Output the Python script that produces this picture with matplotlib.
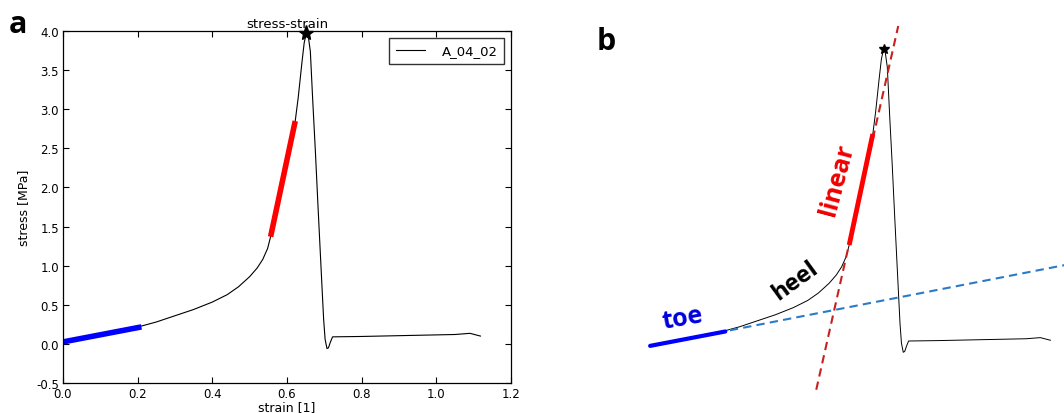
import numpy as np
import matplotlib
matplotlib.use("Agg")
import matplotlib.pyplot as plt

# measured curve (strain [1], stress [MPa])
strain = [0.00, 0.05, 0.10, 0.15, 0.20, 0.25, 0.30, 0.35, 0.40, 0.44, 0.47,
          0.50, 0.52, 0.535, 0.548, 0.556, 0.59, 0.622, 0.63, 0.64, 0.646,
          0.652, 0.657, 0.6625, 0.669, 0.676, 0.683, 0.689, 0.694, 0.698,
          0.702, 0.707, 0.711, 0.716, 0.722, 0.80, 0.90, 1.00, 1.05, 1.09, 1.118]
stress = [0.02, 0.07, 0.12, 0.165, 0.215, 0.28, 0.36, 0.44, 0.535, 0.63, 0.73,
          0.86, 0.97, 1.08, 1.22, 1.37, 2.13, 2.85, 3.15, 3.60, 3.85,
          3.98, 3.93, 3.74, 3.10, 2.46, 1.76, 1.18, 0.70, 0.32,
          0.06, -0.06, -0.05, 0.02, 0.09, 0.095, 0.105, 0.115, 0.12, 0.135, 0.10]
peak = (0.652, 3.98)

# fitted regions
toe_x = [0.0, 0.21]
toe_y = [0.025, 0.217]
lin_x = [0.556, 0.622]
lin_y = [1.37, 2.85]

# extended fit lines for the sketch (b)
toe_ext_x = [0.0, 1.2]
toe_ext_y = [0.025, 0.025 + 0.93 * 1.2]
lin_ext_x = [0.464, 0.693]
lin_ext_y = [-0.56, 4.29]

fig = plt.figure(figsize=(10.64, 4.14), dpi=100)

# ---- panel a
ax = fig.add_axes([0.0592, 0.0725, 0.4211, 0.850])
ax.plot(strain, stress, color="black", lw=0.8, label="A_04_02")
ax.plot(toe_x, toe_y, color="#0000ff", lw=4, solid_capstyle="butt")
ax.plot(lin_x, lin_y, color="#ff0000", lw=4, solid_capstyle="butt")
ax.plot(*peak, marker="*", color="black", ms=11, clip_on=False)
ax.set_xlim(0, 1.2)
ax.set_ylim(-0.5, 4.0)
ax.set_xticks(np.arange(0, 1.21, 0.2))
ax.set_yticks(np.arange(-0.5, 4.01, 0.5))
ax.xaxis.set_major_formatter(matplotlib.ticker.FormatStrFormatter("%.1f"))
ax.yaxis.set_major_formatter(matplotlib.ticker.FormatStrFormatter("%.1f"))
ax.tick_params(direction="in", top=True, right=True, length=4, labelsize=8.5, pad=3)
ax.set_title("stress-strain", fontsize=9.5, pad=3)
ax.set_xlabel("strain [1]", fontsize=9, labelpad=0)
ax.set_ylabel("stress [MPa]", fontsize=9, labelpad=4)
ax.legend(loc="upper right", fancybox=False, edgecolor="black", fontsize=9.5,
          handlelength=2.2, handletextpad=1.3, borderpad=0.5)
for s in ax.spines.values():
    s.set_linewidth(0.9)

# ---- panel b (sketch, no axes)
bx = fig.add_axes([600 / 1064, 0.0, 464 / 1064, 1.0])
bx.plot(strain, stress, color="black", lw=0.7)
bx.plot(toe_ext_x, toe_ext_y, color="#2a7ac8", lw=1.5, ls=(0, (4, 2.5)))
bx.plot(lin_ext_x, lin_ext_y, color="#c8201e", lw=1.5, ls=(0, (4, 2.5)))
bx.plot(toe_x, toe_y, color="#0000ff", lw=3, solid_capstyle="round")
bx.plot(lin_x, lin_y, color="#ff0000", lw=3.5, solid_capstyle="butt")
bx.plot(*peak, marker="*", color="black", ms=7)
bx.set_xlim(-0.14, 1.156)
bx.set_ylim(-0.87, 4.65)
bx.axis("off")

bf = ["Open Sans", "DejaVu Sans"]
bx.text(0.09, 0.39, "toe", color="#0000dd", fontsize=18, fontweight="bold",
        rotation=10, ha="center", va="center", family=bf)
bx.text(0.405, 0.90, "heel", color="black", fontsize=17, fontweight="bold",
        rotation=36, ha="center", va="center", family=bf)
bx.text(0.522, 2.25, "linear", color="#ee0000", fontsize=18, fontweight="bold",
        rotation=75, ha="center", va="center", family=bf)

fig.text(18 / 1064, 1 - 25 / 414, "a", fontsize=22, fontweight="bold",
         ha="center", va="center", family=bf)
fig.text(606 / 1064, 1 - 42 / 414, "b", fontsize=22, fontweight="bold",
         ha="center", va="center", family=bf)

fig.savefig("out.png", dpi=100)
